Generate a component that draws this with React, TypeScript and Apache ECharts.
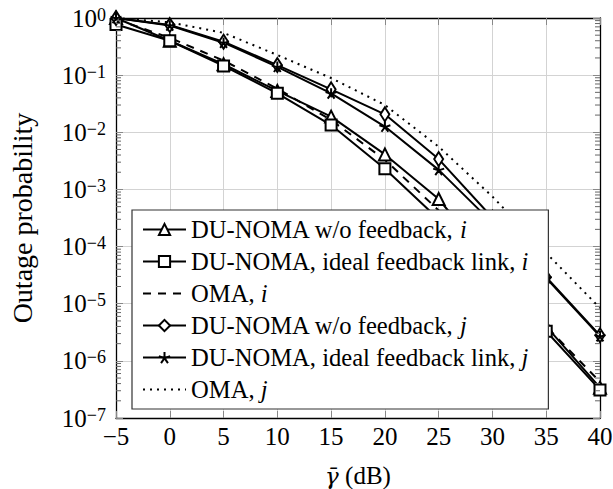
import React, { useEffect, useRef } from "react";
import * as echarts from "echarts";

// ---- data ----
const snrDb = [-5, 0, 5, 10, 15, 20, 25, 30, 35, 40];
const duNomaNoFbI = [1.0, 0.4, 0.155, 0.053, 0.0188, 0.0041, 6.8e-4, 4.8e-5, 4.0e-6, 3.4e-7];
const duNomaIdealI = [0.77, 0.4, 0.145, 0.048, 0.0134, 0.0023, 3.0e-4, 2.7e-5, 3.3e-6, 3.1e-7];
const omaI = [0.95, 0.45, 0.18, 0.058, 0.0164, 0.0033, 4.3e-4, 3.8e-5, 4.0e-6, 4.3e-7];
const duNomaNoFbJ = [1.0, 0.754, 0.385, 0.15, 0.0565, 0.0206, 0.0034, 3.2e-4, 2.9e-5, 2.8e-6];
const duNomaIdealJ = [1.0, 0.74, 0.37, 0.14, 0.048, 0.0126, 0.0022, 2.6e-4, 2.8e-5, 2.7e-6];
const omaJ = [1.0, 0.84, 0.55, 0.225, 0.089, 0.03, 0.0056, 7.5e-4, 7.7e-5, 8.4e-6];

const seriesNames = [
  "DU-NOMA w/o feedback, i",
  "DU-NOMA, ideal feedback link, i",
  "OMA, i",
  "DU-NOMA w/o feedback, j",
  "DU-NOMA, ideal feedback link, j",
  "OMA, j",
];

const xMin = -5;
const xMax = 40;
const xStep = 5;
const yMin = 1e-7;
const yMax = 1;
const decadeExponents = [-7, -6, -5, -4, -3, -2, -1];
const minorMantissas = [2, 3, 4, 5, 6, 7, 8, 9];

const FONT = "'Liberation Serif', 'Times New Roman', serif";
const starPath =
  "path://M0 -1L0 0M0.951 -0.309L0 0M0.588 0.809L0 0M-0.588 0.809L0 0M-0.951 -0.309L0 0";

function pts(arr: number[]) {
  return snrDb.map((x, i) => [x, arr[i]]);
}

export default function App() {
  const ref = useRef<HTMLDivElement>(null);
  useEffect(() => {
    if (!ref.current) return;
    const chart = echarts.init(ref.current, null, { renderer: "svg" });

    const minorVals: number[][] = [];
    decadeExponents.forEach((e) =>
      minorMantissas.forEach((m) => minorVals.push([xMin, m * Math.pow(10, e)]))
    );

    const lineBase = (name: string, arr: number[], symbol: string, size: any) => ({
      name,
      type: "line",
      data: pts(arr),
      symbol,
      symbolSize: size,
      showSymbol: symbol !== "none",
      symbolKeepAspect: true,
      lineStyle: { color: "#000", width: 2 },
      itemStyle: { color: "#fff", borderColor: "#000", borderWidth: 2 },
      emphasis: { disabled: true },
      silent: true,
      z: 3,
    });

    const supRich = {
      base: { fontFamily: FONT, fontSize: 25, color: "#000" },
      sup: { fontFamily: FONT, fontSize: 18, color: "#000", verticalAlign: "top", lineHeight: 18 },
    };

    const option: any = {
      animation: false,
      backgroundColor: "#fff",
      grid: {
        left: 116,
        right: 13,
        top: 18,
        bottom: 71,
        containLabel: false,
        outerBoundsMode: "none",
      },
      xAxis: [
        {
          type: "value",
          min: xMin,
          max: xMax,
          interval: xStep,
          position: "bottom",
          axisLine: { show: true, onZero: false, lineStyle: { color: "#000", width: 1.3 } },
          axisTick: { show: true, inside: true, length: 7, lineStyle: { color: "#888" } },
          splitLine: { show: true, lineStyle: { color: "#d3d3d3", width: 1 } },
          axisLabel: {
            margin: 6,
            fontFamily: FONT,
            fontSize: 25,
            color: "#000",
            formatter: (v: number) => (v < 0 ? "\u2212" + -v : String(v)),
          },
          name: "{g|\u03b3\u0304} (dB)",
          nameLocation: "middle",
          nameGap: 45,
          nameTextStyle: {
            fontFamily: FONT,
            fontSize: 25,
            color: "#000",
            rich: {
              g: { fontFamily: "'DejaVu Serif'", fontSize: 23, fontStyle: "italic", color: "#000" },
            },
          },
        },
        {
          type: "value",
          min: xMin,
          max: xMax,
          interval: xStep,
          position: "top",
          axisLine: { show: true, onZero: false, lineStyle: { color: "#000", width: 1.3 } },
          axisTick: { show: true, inside: true, length: 7, lineStyle: { color: "#888" } },
          splitLine: { show: false },
          axisLabel: { show: false },
        },
      ],
      yAxis: [
        {
          type: "log",
          logBase: 10,
          min: yMin,
          max: yMax,
          position: "left",
          axisLine: { show: true, onZero: false, lineStyle: { color: "#000", width: 1.3 } },
          axisTick: { show: true, inside: true, length: 7, lineStyle: { color: "#888" } },
          splitLine: { show: true, lineStyle: { color: "#d3d3d3", width: 1 } },
          axisLabel: {
            margin: 10,
            formatter: (v: number) => {
              const e = Math.round(Math.log10(v));
              const s = e < 0 ? "\u2212" + -e : String(e);
              return "{base|10}{sup|" + s + "}";
            },
            rich: supRich,
          },
          name: "Outage probability",
          nameLocation: "middle",
          nameGap: 80,
          nameRotate: 90,
          nameTextStyle: { fontFamily: FONT, fontSize: 28, color: "#000" },
        },
        {
          type: "log",
          logBase: 10,
          min: yMin,
          max: yMax,
          position: "right",
          axisLine: { show: true, onZero: false, lineStyle: { color: "#000", width: 1.3 } },
          axisTick: { show: true, inside: true, length: 7, lineStyle: { color: "#888" } },
          splitLine: { show: false },
          axisLabel: { show: false },
        },
      ],
      legend: {
        data: seriesNames,
        orient: "vertical",
        left: 132,
        top: 210,
        itemWidth: 43,
        itemHeight: 14,
        itemGap: 7,
        padding: [7, 20, 7, 10],
        borderColor: "#333",
        borderWidth: 1.2,
        borderRadius: 0,
        backgroundColor: "#fff",
        selectedMode: false,
        z: 10,
        formatter: (name: string) => name.replace(/, ([ij])$/, ", {it|$1}"),
        textStyle: {
          fontFamily: FONT,
          fontSize: 24.6,
          color: "#000",
          rich: { it: { fontFamily: FONT, fontSize: 24.6, fontStyle: "italic", color: "#000" } },
        },
      },
      series: [
        lineBase(seriesNames[0], duNomaNoFbI, "triangle", 12),
        lineBase(seriesNames[1], duNomaIdealI, "rect", 11),
        {
          ...lineBase(seriesNames[2], omaI, "none", 0),
          lineStyle: { color: "#000", width: 2, type: [8, 7] },
          itemStyle: { color: "transparent", borderColor: "transparent", borderWidth: 0 },
        },
        lineBase(seriesNames[3], duNomaNoFbJ, "diamond", [9, 14]),
        lineBase(seriesNames[4], duNomaIdealJ, starPath, 11),
        {
          ...lineBase(seriesNames[5], omaJ, "none", 0),
          lineStyle: { color: "#000", width: 2, type: [2, 5] },
          itemStyle: { color: "transparent", borderColor: "transparent", borderWidth: 0 },
        },
        {
          type: "custom",
          name: "minorTicks",
          silent: true,
          clip: false,
          z: 5,
          data: minorVals,
          renderItem: (params: any, api: any) => {
            const v = api.value(1);
            const p0 = api.coord([xMin, v]);
            const p1 = api.coord([xMax, v]);
            return {
              type: "group",
              children: [
                {
                  type: "line",
                  shape: { x1: p0[0], y1: p0[1], x2: p0[0] + 5, y2: p0[1] },
                  style: { stroke: "#666", lineWidth: 1 },
                },
                {
                  type: "line",
                  shape: { x1: p1[0] - 5, y1: p1[1], x2: p1[0], y2: p1[1] },
                  style: { stroke: "#666", lineWidth: 1 },
                },
              ],
            };
          },
        },
      ],
    };

    chart.setOption(option);
    return () => chart.dispose();
  }, []);

  return (
    <div
      ref={ref}
      style={{ position: "absolute", left: 0, top: 0, width: 613, height: 489 }}
    />
  );
}
